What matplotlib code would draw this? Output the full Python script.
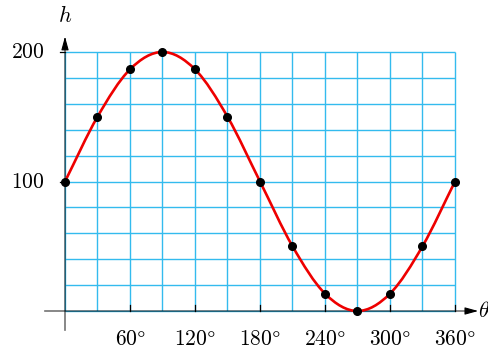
import matplotlib
matplotlib.use("Agg")
import matplotlib.pyplot as plt
import numpy as np
from matplotlib.path import Path
from matplotlib.patches import PathPatch

plt.rcParams["mathtext.fontset"] = "cm"
plt.rcParams["font.family"] = "serif"

# ============================================================
# 数据
# ============================================================
theta_pts = [0, 30, 60, 90, 120, 150, 180, 210, 240, 270, 300, 330, 360]
h_pts = [100, 150, 186.6, 200, 186.6, 150, 100, 50, 13.4, 0, 13.4, 50, 100]

x_ticks = [60, 120, 180, 240, 300, 360]
x_labels = [r"$60\degree$", r"$120\degree$", r"$180\degree$", r"$240\degree$",
            r"$300\degree$", r"$360\degree$"]
y_ticks = [100, 200]
y_labels = [r"$100$", r"$200$"]

grid_x = list(range(0, 361, 30))
grid_y = list(range(0, 201, 20))

# ============================================================
# 画布：整幅图作为数据坐标
# ============================================================
W, H = 489, 352
fig = plt.figure(figsize=(W / 100, H / 100), dpi=100)
ax = fig.add_axes([0, 0, 1, 1])
px_x = 390 / 360.0     # 像素 / 度
px_y = 259 / 200.0     # 像素 / 单位
x0, y0 = 65, 311      # 原点像素位置
ax.set_xlim(-x0 / px_x, (W - x0) / px_x)
ax.set_ylim(-(H - y0) / px_y, y0 / px_y)
ax.axis("off")

grid_color = "#33BBEE"
ax.vlines(grid_x, 0, 200, colors=grid_color, lw=1.0, zorder=1)
ax.hlines(grid_y, 0, 360, colors=grid_color, lw=1.0, zorder=1)

# 坐标轴
axis_kw = dict(color="black", alpha=0.55, lw=1.2, zorder=2)
ax.plot([-18, 378], [0, 0], **axis_kw)
ax.plot([0, 0], [-15, 210], **axis_kw)
arrow_kw = dict(arrowstyle="-|>,head_length=0.8,head_width=0.22",
                color="black", lw=0.8, mutation_scale=10)
ax.annotate("", xy=(384, 0), xytext=(374, 0), arrowprops=arrow_kw, zorder=3)
ax.annotate("", xy=(0, 214), xytext=(0, 206), arrowprops=arrow_kw, zorder=3)

# 刻度
for t, lab in zip(x_ticks, x_labels):
    ax.plot([t, t], [0, 4.5], color="black", lw=0.9, zorder=3)
    ax.text(t, -22, lab, ha="center", va="center", fontsize=15.5)
for v, lab in zip(y_ticks, y_labels):
    ax.plot([-5, 0], [v, v], color="black", lw=0.9, zorder=3)
    ax.text(-18.5, v, lab, ha="right", va="center", fontsize=15.5)

ax.text(0, 228, r"$h$", ha="center", va="center", fontsize=16)
ax.text(381, 0, r"$\theta$", ha="left", va="center", fontsize=16)

# 平滑曲线：以数据点构造三次 Bezier（Catmull-Rom 切线）
xs = np.array(theta_pts, dtype=float)
ys = np.array(h_pts, dtype=float)
n = len(xs)
slopes = np.zeros(n)
slopes[1:-1] = (ys[2:] - ys[:-2]) / (xs[2:] - xs[:-2])
slopes[0] = (ys[1] - ys[-2]) / (xs[1] - xs[-2] + 360)
slopes[-1] = slopes[0]
verts = [(xs[0], ys[0])]
codes = [Path.MOVETO]
for i in range(n - 1):
    d = (xs[i + 1] - xs[i]) / 3.0
    verts += [(xs[i] + d, ys[i] + slopes[i] * d),
              (xs[i + 1] - d, ys[i + 1] - slopes[i + 1] * d),
              (xs[i + 1], ys[i + 1])]
    codes += [Path.CURVE4] * 3
ax.add_patch(PathPatch(Path(verts, codes), facecolor="none",
                       edgecolor="#EE0000", lw=1.9, zorder=4))

ax.plot(theta_pts, h_pts, "o", color="black", markersize=5.5, zorder=5)

fig.savefig("out.png", dpi=100)
